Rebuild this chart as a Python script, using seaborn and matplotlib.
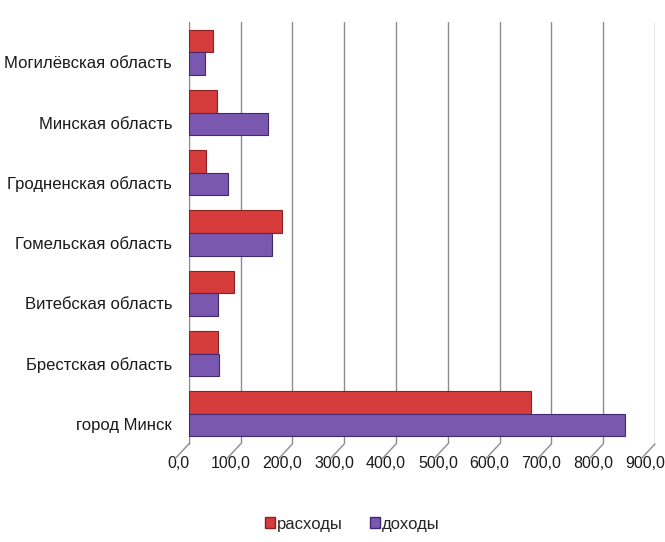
import pandas as pd
import matplotlib.pyplot as plt
import seaborn as sns
from matplotlib.ticker import FuncFormatter
from matplotlib.patches import Patch
from matplotlib.transforms import ScaledTranslation

# === Data ===
regions = ['Могилёвская область', 'Минская область', 'Гродненская область',
           'Гомельская область', 'Витебская область', 'Брестская область',
           'город Минск']
rashody = [46, 54, 33, 179, 87, 56, 660]
dohody = [31, 152, 75, 160, 56, 58, 842]
series = ['расходы', 'доходы']
colors = ['#d63c3c', '#7b58b0']
edges = ['#8a2222', '#40296e']
xticks = list(range(0, 1000, 100))

df = pd.DataFrame({
    'region': regions * 2,
    'series': [series[0]] * len(regions) + [series[1]] * len(regions),
    'value': rashody + dohody,
})

# === Plot ===
sns.set_style('white')
plt.rcParams['font.family'] = ['Liberation Sans', 'DejaVu Sans']

fig = plt.figure(figsize=(6.65, 5.42), dpi=100)
ax = fig.add_axes([0.284, 0.181, 0.701, 0.778])

sns.barplot(data=df, y='region', x='value', hue='series', order=regions,
            hue_order=series, palette=colors, saturation=1, width=0.75,
            orient='h', ax=ax, legend=False, zorder=3)

for i, cont in enumerate(ax.containers):
    for bar in cont:
        bar.set_edgecolor(edges[i])
        bar.set_linewidth(0.8)

ax.set_xlim(0, 900)
ax.set_ylim(len(regions) - 0.5, -0.5)
ax.set_xticks(xticks)
ax.xaxis.set_major_formatter(FuncFormatter(lambda v, p: f'{v:.1f}'.replace('.', ',')))
ax.grid(axis='x', color='#8c8c8c', linewidth=1, zorder=0)
ax.set_xlabel('')
ax.set_ylabel('')
ax.tick_params(axis='both', length=0, labelsize=12, labelcolor='#1a1a1a')
ax.tick_params(axis='x', pad=9, labelsize=11.5)
ax.tick_params(axis='y', pad=12)
for s in ['top', 'right', 'bottom']:
    ax.spines[s].set_visible(False)
ax.spines['left'].set_color('#8c8c8c')

# shift labels to the "front plane" like the 3D original
for lbl in ax.get_xticklabels():
    lbl.set_transform(lbl.get_transform() + ScaledTranslation(-0.1, 0, fig.dpi_scale_trans))
for lbl in ax.get_yticklabels():
    lbl.set_transform(lbl.get_transform() + ScaledTranslation(0, -0.1, fig.dpi_scale_trans))

# 3D floor ticks
for v in xticks:
    ax.annotate('', xy=(v, len(regions) - 0.5), xytext=(-14, -15),
                textcoords='offset pixels', annotation_clip=False,
                arrowprops=dict(arrowstyle='-', color='#8c8c8c', lw=1,
                                shrinkA=0, shrinkB=0))

handles = [Patch(facecolor=colors[i], edgecolor=edges[i], label=series[i]) for i in range(2)]
fig.legend(handles=handles, loc='center', bbox_to_anchor=(0.53, 0.033), ncol=2,
           frameon=False, fontsize=12, handlelength=0.6, handleheight=0.6,
           handletextpad=0.15, columnspacing=1.6)

fig.savefig('out.png', dpi=100)
